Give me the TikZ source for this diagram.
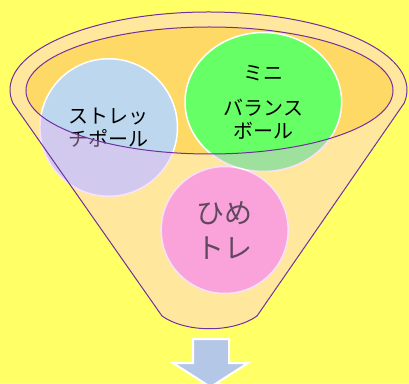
\documentclass[tikz,border=0pt]{standalone}
\usepackage{fontspec}
\usetikzlibrary{shapes.geometric}
\newfontfamily\jp{Noto Sans CJK JP}
\definecolor{bg}{HTML}{FFFF66}
\definecolor{ring}{HTML}{FFE79D}
\definecolor{rim}{HTML}{FFD966}
\definecolor{edge}{HTML}{7030A0}
\definecolor{cblue}{HTML}{BDD7EE}
\definecolor{cgreen}{HTML}{66FF66}
\definecolor{cpink}{HTML}{FF99CC}
\definecolor{veil}{RGB}{240,180,240}
\definecolor{arrowc}{HTML}{B4C7E7}
\begin{document}
\begin{tikzpicture}[x=1pt,y=1pt,
  ball/.style={circle, draw=white, line width=1.5pt, inner sep=0pt, align=center,
    font=\jp\fontsize{20}{23}\selectfont},
  bigball/.style={ball, font=\jp\fontsize{28}{35}\selectfont},
  outline/.style={draw=edge, line width=1pt}]
\fill[bg] (0,0) rectangle (409,383);
\useasboundingbox (0,0) rectangle (409,383);
\coordinate (L) at (12.8,280);
\coordinate (BR) at (257,67);
\coordinate (BL) at (162,67);
\coordinate (C) at (209.5,292.5);
% funnel body and rim
\fill[ring] (L) arc[start angle=189.6, end angle=-9.6, x radius=198.5, y radius=78]
  -- (BR) .. controls (233,50) and (186,50) .. (BL) -- cycle;
\fill[rim] (C) ellipse [x radius=183.5, y radius=63.5];
% balls
\node[ball, fill=cblue, minimum size=137.5] (s) at (108.7,255.5) {ストレッ\\チポール};
\node[ball, ellipse, fill=cgreen, minimum width=156.6, minimum height=139] (m) at (263.3,281) {ミニ\\[12pt]バランス\\ボール};
\node[bigball, fill=cpink, minimum size=127] (h) at (224.7,153) {ひめ\\トレ};
% translucent front of funnel
\begin{scope}[even odd rule]
  \clip (0,0) rectangle (409,383) (C) ellipse [x radius=183.5, y radius=63.5];
  \fill[veil, opacity=0.4] (s.center) circle[radius=69.5]
    (m.center) ellipse[x radius=79.1, y radius=70.3]
    (h.center) circle[radius=64.3];
\end{scope}
% outlines
\draw[outline] (C) ellipse [x radius=183.5, y radius=63.5];
\draw[outline] (L) arc[start angle=189.6, end angle=-9.6, x radius=198.5, y radius=78]
  -- (BR) .. controls (233,50) and (186,50) .. (BL) -- cycle;
% arrow
\filldraw[fill=arrowc, draw=white, line width=2pt]
  (193,44) -- (229,44) -- (229,20) -- (248,20) -- (210.5,-4) -- (173,20) -- (193,20) -- cycle;
\end{tikzpicture}
\end{document}
